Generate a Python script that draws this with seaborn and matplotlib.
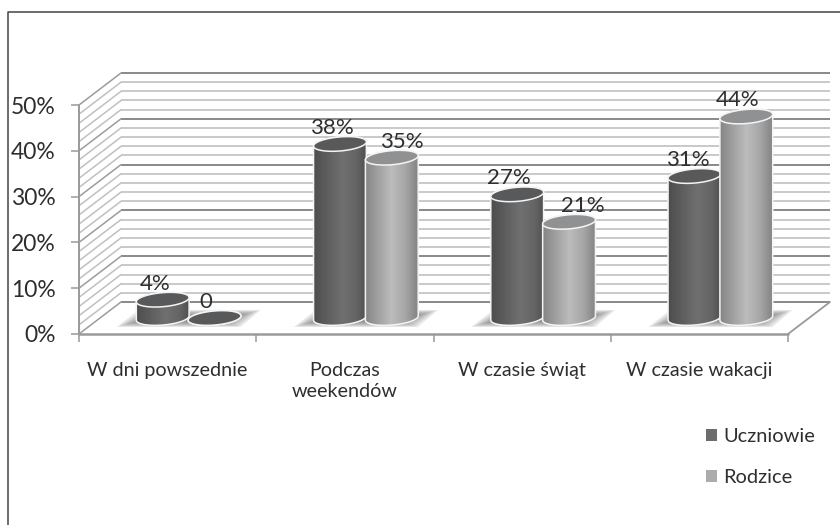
import numpy as np
import pandas as pd
import matplotlib
matplotlib.use("Agg")
import matplotlib.pyplot as plt
import seaborn as sns
from matplotlib.lines import Line2D
from matplotlib.patches import PathPatch, Polygon, Patch
from matplotlib.path import Path
from matplotlib.transforms import offset_copy

categories = ["W dni powszednie", "Podczas\nweekendów", "W czasie świąt", "W czasie wakacji"]
series_names = ["Uczniowie", "Rodzice"]
uczniowie = [4, 38, 27, 31]
rodzice = [0, 35, 21, 44]
uczniowie_labels = ["4%", "38%", "27%", "31%"]
rodzice_labels = ["0", "35%", "21%", "44%"]
y_ticks = [0, 10, 20, 30, 40, 50]
y_tick_labels = ["0%", "10%", "20%", "30%", "40%", "50%"]

W, H, DPI = 840, 525, 100
TXT = "#2e2e2e"
sns.set_theme(style="white")
plt.rcParams["font.family"] = ["Lato", "DejaVu Sans"]

fig = plt.figure(figsize=(W / DPI, H / DPI), dpi=DPI, facecolor="white")
L, R, T, B = 79, 788, 105, 334
ax = fig.add_axes([L / W, (H - B) / H, (R - L) / W, (B - T) / H])
PX = 4 / (R - L)          # data units per pixel, x
PY = 50 / (B - T)         # data units per pixel, y

df = pd.DataFrame({
    "kategoria": categories * 2,
    "seria": [series_names[0]] * 4 + [series_names[1]] * 4,
    "wartosc": uczniowie + rodzice,
})
sns.barplot(data=df, x="kategoria", y="wartosc", hue="seria", order=categories,
            hue_order=series_names, palette=["#5b5c5e", "#a6a7a9"], width=0.585,
            gap=0, legend=False, ax=ax, zorder=5)

ax.set_xlim(-0.5, 3.5)
ax.set_ylim(0, 50)
for s in ax.spines.values():
    s.set_visible(False)
ax.patch.set_alpha(0)
ax.set_xlabel("")
ax.set_ylabel("")

# walls and floor
DX, DY = 42 * PX, 32 * PY
AXC = "#9a9a9a"
for v in np.arange(0, 51, 2):
    major = v % 10 == 0
    c = "#808080" if major else "#c2c2c2"
    lw = 1.3 if major else 1.25
    ax.plot([-0.5 + DX, 3.5 + DX], [v + DY, v + DY], color=c, lw=lw, clip_on=False, zorder=1, solid_capstyle="butt")
    ax.plot([-0.5, -0.5 + DX], [v, v + DY], color="#9c9c9c" if major else "#c0c0c0", lw=1.1, clip_on=False, zorder=1)
ax.plot([-0.5, -0.5], [0, 50], color=AXC, lw=1.4, clip_on=False, zorder=2)
ax.plot([-0.5, 3.5], [0, 0], color=AXC, lw=1.8, clip_on=False, zorder=2)
ax.plot([3.5, 3.5 + DX], [0, DY], color=AXC, lw=1.3, clip_on=False, zorder=2)

# axis ticks
ax.set_yticks(y_ticks, y_tick_labels)
ax.set_xticks([-0.5, 0.5, 1.5, 2.5, 3.5], minor=True)
ax.tick_params(axis="y", length=5.5, width=1.1, color=AXC, pad=11.5, labelsize=16.5, labelcolor=TXT, left=True)
ax.tick_params(axis="x", which="minor", length=6, width=1.1, color=AXC, bottom=True)
ax.tick_params(axis="x", which="major", length=0, pad=20.5, labelsize=14.2, labelcolor=TXT)
for lab in ax.get_xticklabels():
    lab.set_linespacing(1.25)

mid = offset_copy(ax.transData, fig=fig, x=21, y=16, units="dots")
A, Bb, PHI = 26.5, 7.0, np.radians(5)


def ell(cx, cy, t):
    x = A * np.cos(t) * np.cos(PHI) - Bb * np.sin(t) * np.sin(PHI)
    y = A * np.cos(t) * np.sin(PHI) + Bb * np.sin(t) * np.cos(PHI)
    return np.column_stack([cx + x * PX, cy + y * PY])


def ramp(stops):
    pos = np.linspace(0, 1, 80)
    g = np.interp(pos, [p for p, _ in stops], [c for _, c in stops]) / 255
    return np.repeat(g[None, :, None], 3, axis=2)


ramps = [ramp([(0, 72), (0.12, 82), (0.55, 112), (0.8, 100), (1, 74)]),
         ramp([(0, 125), (0.1, 140), (0.5, 188), (0.75, 165), (1, 122)])]
top_cols = ["#58595b", "#909193"]

# floor shadows
for gi in range(4):
    gx = gi
    for k in range(9):
        ins = k * 3.0
        xs = np.array([-72 + ins, 52 - ins, 72 - ins, -50 + ins]) * PX + gx
        ys = np.array([-9 + ins * 0.28, -9 + ins * 0.28, 8 - ins * 0.28, 8 - ins * 0.28]) * PY
        ax.add_patch(Polygon(np.column_stack([xs, ys]), closed=True, fc="#68686a", ec="none",
                             alpha=0.15, transform=mid, zorder=3, clip_on=False))

# cylinders
dx_labels = [[-8, -8, -8, -7], [-9, 10, 14, -9]]
texts = [uczniowie_labels, rodzice_labels]
for si, cont in enumerate(ax.containers):
    for bi, bar in enumerate(cont):
        cx = bar.get_x() + bar.get_width() / 2
        h = bar.get_height()
        z = 5 + si + bi * 0.01
        bot = ell(cx, 0, np.linspace(np.pi, 2 * np.pi, 60))
        top = ell(cx, h, np.linspace(0, np.pi, 60))
        body = Path(np.vstack([bot, top, bot[:1]]))
        outline = PathPatch(body, fc="none", ec="#f4f4f4", lw=1.1, transform=mid, zorder=z + 0.3, clip_on=False)
        ax.add_patch(outline)
        bar.set_transform(mid)
        bar.set_clip_path(body, mid)
        bar.set_zorder(z)
        bar.set_edgecolor("none")
        if h > 0:
            im = ax.imshow(ramps[si], extent=(bar.get_x() - 0.02, bar.get_x() + bar.get_width() + 0.02, -3, h + 3),
                           aspect="auto", transform=mid, zorder=z + 0.1)
            im.set_clip_path(body, mid)
        ring = ell(cx, h, np.linspace(0, 2 * np.pi, 100))
        ax.add_patch(Polygon(ring, closed=True, fc=top_cols[si] if h > 0 else "#58595b", ec="#f4f4f4", lw=1.1,
                             transform=mid, zorder=z + 0.4, clip_on=False))
        ax.annotate(texts[si][bi], xy=(cx, h), xycoords=mid,
                    xytext=(dx_labels[si][bi] * 0.72, 16 * 0.72), textcoords="offset points",
                    ha="center", va="center", fontsize=16, color=TXT, zorder=20, annotation_clip=False)

ax.set_xlim(-0.5, 3.5)
ax.set_ylim(0, 50)

# legend
handles = [Patch(fc="#6b6c6e", ec="none"), Patch(fc="#abacae", ec="none")]
fig.legend(handles, series_names, loc="center left", bbox_to_anchor=(706 / W, 1 - 457 / H), frameon=False,
           fontsize=14.4, labelcolor=TXT, handlelength=0.55, handleheight=0.55, handletextpad=0.3, labelspacing=1.2,
           borderpad=0, borderaxespad=0)

# picture frame
fig.add_artist(Line2D([8 / W, 8 / W, 1], [0, 1 - 12 / H, 1 - 12 / H], color="#444444", lw=1.1))

fig.savefig("out.png", dpi=DPI)
